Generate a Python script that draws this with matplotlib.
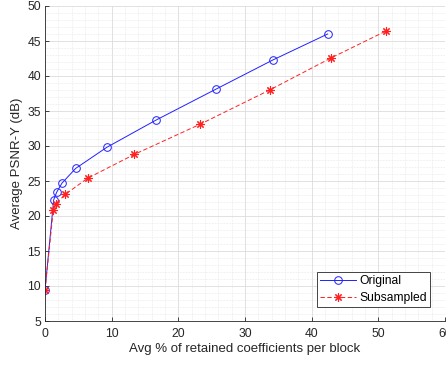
import matplotlib.pyplot as plt
from matplotlib.ticker import MultipleLocator

plt.rcParams['font.family'] = ['Liberation Sans', 'DejaVu Sans']

# Original
orig_x = [0, 1.3, 1.75, 2.55, 4.6, 9.25, 16.65, 25.6, 34.2, 42.4]
orig_y = [9.4, 22.3, 23.4, 24.7, 26.8, 29.8, 33.7, 38.1, 42.3, 46.0]

# Subsampled
sub_x = [0, 1.25, 1.6, 3.05, 6.4, 13.4, 23.25, 33.7, 42.95, 51.1]
sub_y = [9.4, 20.9, 21.7, 23.1, 25.4, 28.8, 33.1, 38.0, 42.6, 46.4]

x_label = "Avg % of retained coefficients per block"
y_label = "Average PSNR-Y (dB)"

fig = plt.figure(figsize=(4.46, 3.65), dpi=100)
ax = fig.add_axes([45 / 446, 44 / 365, 400 / 446, 315 / 365])

ax.plot(orig_x, orig_y, '-o', color='#2020ff', lw=0.7, ms=5.5,
        mfc='none', mew=0.7, label='Original')
# matlab style asterisk (+ and x together)
ax.plot(sub_x, sub_y, '--', marker=(8, 2, 0), color='#ff2020', lw=0.7,
        ms=6, mew=0.8, label='Subsampled', dashes=(4.5, 2.5))

ax.set_xlim(0, 60)
ax.set_ylim(5, 50)
ax.xaxis.set_major_locator(MultipleLocator(10))
ax.yaxis.set_major_locator(MultipleLocator(5))
ax.xaxis.set_minor_locator(MultipleLocator(2))
ax.yaxis.set_minor_locator(MultipleLocator(1))

ax.grid(True, which='major', color='#dcdcdc', lw=0.6)
ax.grid(True, which='minor', color='#e4e4e4', lw=0.5, ls=(0, (1, 1.2)))
ax.set_axisbelow(True)

for s in ['top', 'right']:
    ax.spines[s].set_visible(False)
for s in ['left', 'bottom']:
    ax.spines[s].set_color('#262626')
    ax.spines[s].set_linewidth(0.6)

ax.tick_params(which='major', direction='in', length=3, width=0.6,
               colors='#262626', labelsize=8.7, pad=3)
ax.tick_params(axis='x', which='major', pad=5)
ax.tick_params(which='minor', length=0)

ax.set_xlabel(x_label, fontsize=9.5, color='#262626', labelpad=2)
ax.set_ylabel(y_label, fontsize=9.5, color='#262626', labelpad=3)

leg = ax.legend(loc='lower right', fontsize=8.7, fancybox=False,
                framealpha=1, edgecolor='#262626', borderpad=0.25,
                handlelength=3.0, labelspacing=0.4, handletextpad=0.3,
                borderaxespad=0, bbox_to_anchor=(0.963, 0.045))
leg.get_frame().set_linewidth(0.6)

fig.savefig('out.png', dpi=100)
